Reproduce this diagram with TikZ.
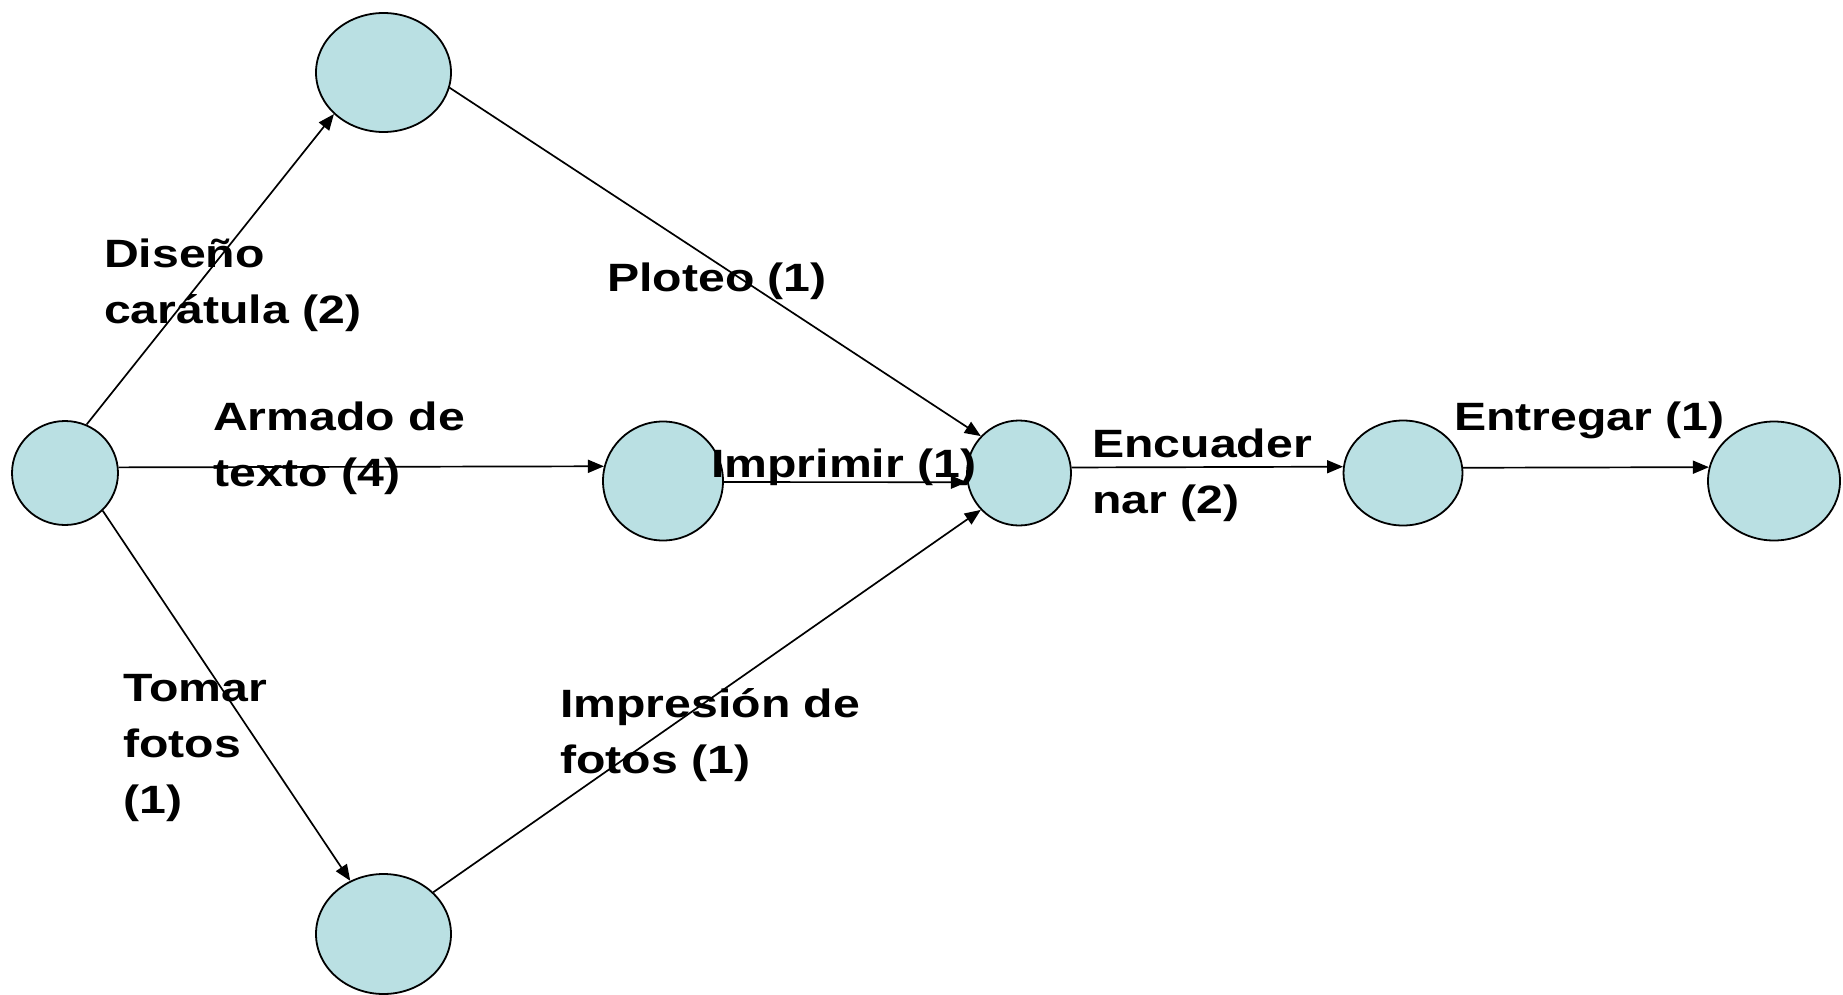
\documentclass[tikz,border=0pt]{standalone}
\usepackage{fontspec}
\setmainfont{Liberation Sans}[FakeStretch=1.22]
\usetikzlibrary{arrows.meta,shapes.geometric}
\definecolor{nodefill}{RGB}{186,224,227}
\begin{document}
\begin{tikzpicture}[x=1pt,y=-1pt,
  ev/.style={ellipse, draw=black, line width=1.8pt, fill=nodefill, inner sep=0pt},
  conn/.style={line width=1.7pt, -{Triangle[length=16pt,width=13pt]}},
  lbl/.style={anchor=base west, inner sep=0pt, font=\fontsize{39.5}{56}\selectfont\bfseries}]
\useasboundingbox (0,0) rectangle (1843,995);
% events
\node[ev, minimum width=106pt, minimum height=104pt] (A) at (65,473) {};
\node[ev, minimum width=135pt, minimum height=119pt] (B) at (383.5,72.5) {};
\node[ev, minimum width=120pt, minimum height=119pt] (C) at (663,481) {};
\node[ev, minimum width=135pt, minimum height=120pt] (D) at (383.5,934) {};
\node[ev, minimum width=104pt, minimum height=105pt] (E) at (1019,473) {};
\node[ev, minimum width=119pt, minimum height=105pt] (F) at (1403,473) {};
\node[ev, minimum width=132pt, minimum height=119pt] (G) at (1774,481) {};
% activities
\draw[conn] (A.66) -- (B.220);
\draw[conn] (A.6.3) -- (C.166.7);
\draw[conn] (A.-45) -- (D.122);
\draw[conn] (B.-13) -- (E.136.5);
\draw[conn] (C.-1) -- (E.190);
\draw[conn] (D.40.5) -- (E.224);
\draw[conn] (E.6.5) -- (F.174.3);
\draw[conn] (F.5.7) -- (G.168);
% labels
\node[lbl] (l1) at (104,267) {\begin{tabular}[t]{@{}l@{}}Diseño\\carátula (2)\end{tabular}};
\node[lbl] (l2) at (607,291) {Ploteo (1)};
\node[lbl] (l3) at (213,430) {\begin{tabular}[t]{@{}l@{}}Armado de\\texto (4)\end{tabular}};
\node[lbl] (l4) at (711,477) {Imprimir (1)};
\node[lbl] (l5) at (1092,457) {\begin{tabular}[t]{@{}l@{}}Encuader\\nar (2)\end{tabular}};
\node[lbl] (l6) at (1454,430) {Entregar (1)};
\node[lbl] (l7) at (123,701) {\begin{tabular}[t]{@{}l@{}}Tomar\\fotos\\(1)\end{tabular}};
\node[lbl] (l8) at (560,717) {\begin{tabular}[t]{@{}l@{}}Impresión de\\fotos (1)\end{tabular}};
\end{tikzpicture}
\end{document}
